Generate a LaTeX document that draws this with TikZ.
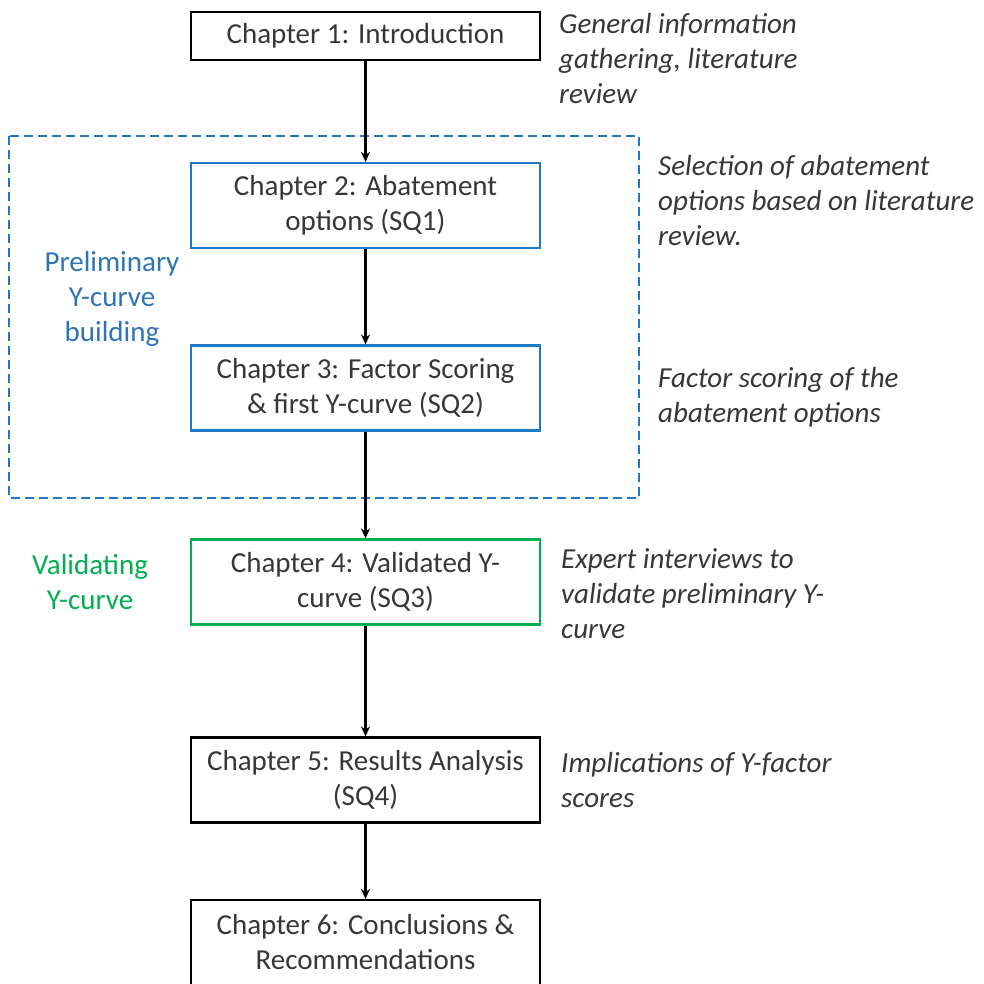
\documentclass[tikz,border=0pt]{standalone}
\usepackage{fontspec}
\setmainfont{Carlito}
\usetikzlibrary{arrows.meta}
\definecolor{txt}{RGB}{55,55,55}
\definecolor{bluetxt}{RGB}{46,117,182}
\definecolor{blueline}{RGB}{30,120,200}
\definecolor{greenc}{RGB}{0,176,80}
\tikzset{
  chbox/.style={draw=black, line width=2.2pt, minimum width=349pt, inner sep=0pt, align=center, text=txt,
    font=\fontsize{29}{35}\selectfont},
  bluebox/.style={chbox, draw=blueline},
  greenbox/.style={chbox, draw=greenc},
  note/.style={anchor=base west, align=left, inner sep=0pt, text=txt, font=\fontsize{29}{35}\selectfont\itshape},
  phase/.style={anchor=base, align=center, inner sep=0pt, font=\fontsize{29}{35}\selectfont},
  conn/.style={line width=2.2pt, -{Stealth[length=10pt,width=9pt]}},
}
\begin{document}
\begin{tikzpicture}[x=1pt,y=-1pt]
\clip (0,0) rectangle (984,983);
\fill[white] (0,0) rectangle (984,983);
% dashed group
\draw[blueline, line width=2pt, dash pattern=on 9pt off 5pt] (9,136) rectangle (639,498);
% boxes
\node[chbox, minimum height=48pt] (c1) at (365.5,36) {Chapter 1: Introduction};
\node[bluebox, minimum height=85pt] (c2) at (365.5,205.5) {Chapter 2: Abatement\\options (SQ1)};
\node[bluebox, minimum height=85pt] (c3) at (365.5,388) {Chapter 3: Factor Scoring\\\& first Y-curve (SQ2)};
\node[greenbox, minimum height=85pt] (c4) at (365.5,582) {Chapter 4: Validated Y-\\curve (SQ3)};
\node[chbox, minimum height=85pt] (c5) at (365.5,780) {Chapter 5: Results Analysis\\(SQ4)};
\node[chbox, minimum height=85pt] (c6) at (365.5,942.5) {Chapter 6: Conclusions \&\\Recommendations};
% connectors
\draw[conn] (c1) -- (c2);
\draw[conn] (c2) -- (c3);
\draw[conn] (c3) -- (c4);
\draw[conn] (c4) -- (c5);
\draw[conn] (c5) -- (c6);
% phase labels
\node[phase, text=bluetxt] (p1) at (112,341) {Preliminary\\Y-curve\\building};
\node[phase, text=greenc] (p2) at (90,609) {Validating\\Y-curve};
% notes
\node[note] (n1) at (559,103) {General information\\gathering, literature\\review};
\node[note] (n2) at (658,245) {Selection of abatement\\options based on literature\\review.};
\node[note] (n3) at (658,422) {Factor scoring of the\\abatement options};
\node[note] (n4) at (561,638) {Expert interviews to\\validate preliminary Y-\\curve};
\node[note] (n5) at (561,807) {Implications of Y-factor\\scores};
\end{tikzpicture}
\end{document}
